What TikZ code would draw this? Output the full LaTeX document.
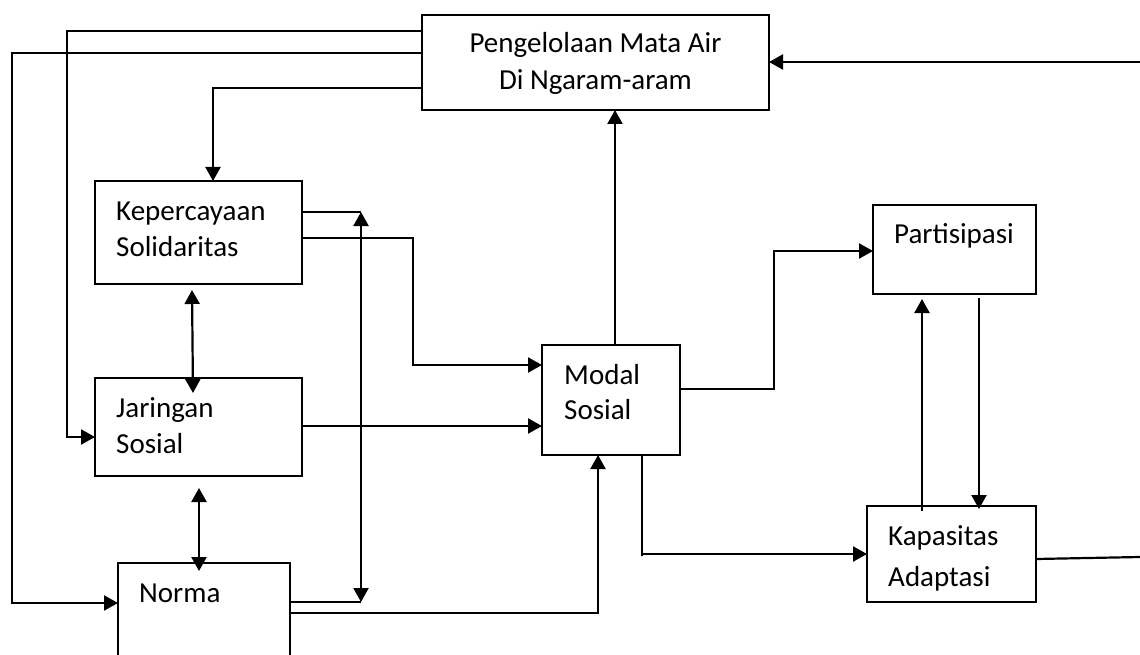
\documentclass[tikz,border=0pt]{standalone}
\usepackage{fontspec}
\setmainfont{Carlito}
\usetikzlibrary{arrows.meta}
\begin{document}
\begin{tikzpicture}[x=1pt,y=-1pt,
  box/.style={draw, line width=2.2pt, inner sep=0pt, outer sep=0pt},
  conn/.style={line width=2.2pt},
  arr/.style={conn, -{Triangle[length=14pt,width=15pt]}},
  biarr/.style={conn, {Triangle[length=14pt,width=15pt]}-{Triangle[length=14pt,width=15pt]}},
  txt/.style={font=\fontsize{29}{36}\selectfont, inner sep=0pt, align=left, anchor=base west}]
\useasboundingbox (0,0) rectangle (1140,655);
\clip (0,0) rectangle (1140,655);
% boxes
\node[box, minimum width=347pt, minimum height=95pt] (top) at (595.5,62.5) {};
\node[box, minimum width=207pt, minimum height=103pt] (kep) at (198.5,232.5) {};
\node[box, minimum width=207pt, minimum height=98pt] (jar) at (198.5,427) {};
\node[box, minimum width=172pt, minimum height=117pt] (norma) at (204,621.5) {};
\node[box, minimum width=138pt, minimum height=110pt] (modal) at (611,400) {};
\node[box, minimum width=163pt, minimum height=89pt] (part) at (954.5,249.5) {};
\node[box, minimum width=169pt, minimum height=96pt] (kap) at (951.5,554) {};
% texts (base anchor = baseline of last line)
\node[txt, align=center, anchor=base, font=\fontsize{29}{37}\selectfont] (topT) at (595.5,90) {Pengelolaan Mata Air\\Di Ngaram-aram};
\node[txt] (kepT) at (116,256) {Kepercayaan\\Solidaritas};
\node[txt] (jarT) at (116,453) {Jaringan\\Sosial};
\node[txt] (normaT) at (139,602) {Norma};
\node[txt, font=\fontsize{29}{35}\selectfont] (modalT) at (564,419) {Modal\\Sosial};
\node[txt] (partT) at (894,243) {Partisipasi};
\node[txt, font=\fontsize{29}{41}\selectfont] (kapT) at (888,586) {Kapasitas\\Adaptasi};
% connectors from top box
\draw[arr] (top.west |- 0,31) -| (67,437) -- (jar.west |- 0,437);
\draw[arr] (top.west |- 0,53) -| (12,603) -- (norma.west |- 0,603);
\draw[arr] (top.west |- 0,88) -| (kep.north -| 213,0);
% kepercayaan outputs
\draw[conn] (kep.east |- 0,212) -- (361,212);
\draw[conn] (norma.east |- 0,602) -- (361,602);
\draw[biarr] (361,602) -- (361,212);
\draw[arr] (kep.east |- 0,238) -| (413,365) -- (modal.west |- 0,365);
\draw[arr] (jar.east |- 0,426) -- (modal.west |- 0,426);
\draw[arr] (norma.east |- 0,613) -| (modal.south -| 598,0);
% double arrows between left boxes
\draw[biarr] (192,290) -- (193,393);
\draw[biarr] (199,488) -- (199,571);
% modal outputs
\draw[arr] (modal.north -| 615,0) -- (top.south -| 615,0);
\draw[arr] (modal.east |- 0,389) -| (774,251) -- (part.west |- 0,251);
\draw[arr] (modal.south -| 642,0) -- (642,556) |- (kap.west |- 0,554);
% partisipasi <-> kapasitas
\draw[arr] (922,511) -- (922,299);
\draw[arr] (979,298) -- (979,509);
% right side feedback
\draw[conn] (kap.east |- 0,559) -- (1140,557);
\draw[arr] (1140,62) -- (top.east |- 0,62);
\end{tikzpicture}
\end{document}
